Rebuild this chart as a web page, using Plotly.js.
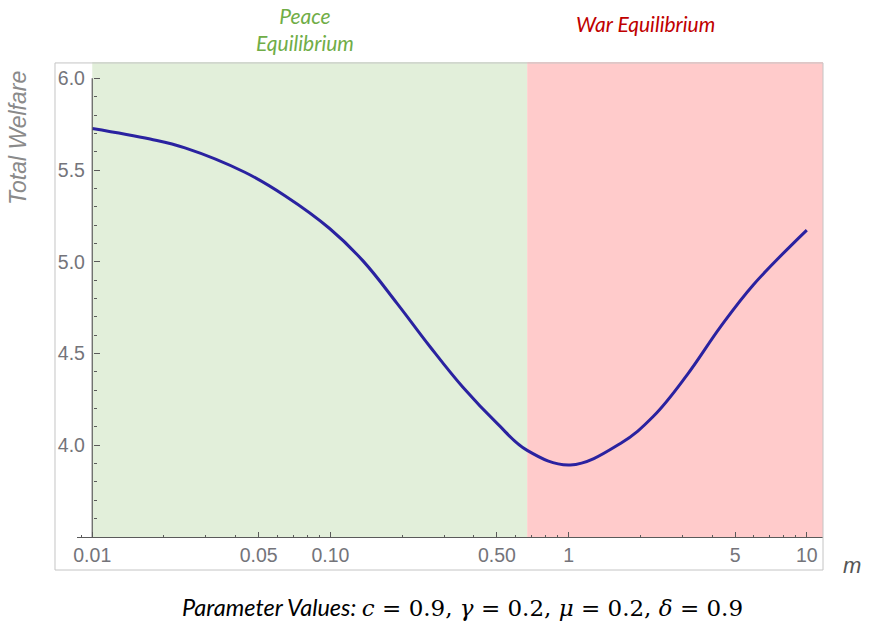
<!DOCTYPE html>
<html>
<head>
<meta charset="utf-8">
<script src="https://cdn.plot.ly/plotly-3.0.1.min.js"></script>
<style>html,body{margin:0;padding:0;background:#fff;}#chart{width:869px;height:623px;}</style>
</head>
<body>
<div id="chart"></div>
<script>
// Data
const m = [0.01, 0.0175, 0.0245, 0.0437, 0.0644, 0.0995, 0.137, 0.190, 0.262, 0.360, 0.501, 0.670, 1.016, 1.65, 2.27, 3.15, 4.34, 5.97, 10];
const welfare = [5.727, 5.669, 5.621, 5.488, 5.360, 5.180, 5.005, 4.775, 4.537, 4.316, 4.119, 3.972, 3.893, 4.010, 4.158, 4.385, 4.645, 4.875, 5.173];
const peaceWarBoundary = 0.67;
const xMajorTicks = [0.01, 0.05, 0.1, 0.5, 1, 5, 10];
const xMajorLabels = ['0.01', '0.05', '0.10', '0.50', '1', '5', '10'];
const xMinorTicks = [0.009, 0.02, 0.03, 0.04, 0.06, 0.07, 0.08, 0.09, 0.2, 0.3, 0.4, 0.6, 0.7, 0.8, 0.9, 2, 3, 4, 6, 7, 8, 9];
const yTicks = [4.0, 4.5, 5.0, 5.5, 6.0];
const yLabels = ['4.0', '4.5', '5.0', '5.5', '6.0'];

const trace = {
  x: m, y: welfare, type: 'scatter', mode: 'lines',
  line: {color: '#2a22a0', width: 3, shape: 'spline', smoothing: 1.1},
  hoverinfo: 'skip'
};

const tickFont = {family: 'Liberation Sans, Arial, sans-serif', size: 19.5, color: '#74747a'};

const layout = {
  width: 869, height: 623,
  margin: {l: 77, r: 46, t: 62, b: 86},
  paper_bgcolor: '#ffffff', plot_bgcolor: 'rgba(0,0,0,0)',
  showlegend: false,
  xaxis: {
    type: 'log', range: [-2.064, 1.068],
    showgrid: false, zeroline: false,
    showline: true, linecolor: '#5a5a5a', linewidth: 1.2,
    ticks: 'inside', ticklen: 5, tickwidth: 1, tickcolor: '#5a5a5a',
    tickmode: 'array', tickvals: xMajorTicks, ticktext: xMajorLabels,
    tickfont: tickFont,
    minor: {tickmode: 'array', tickvals: xMinorTicks, ticks: 'inside', ticklen: 2.5, tickcolor: '#5a5a5a', tickwidth: 1, showgrid: false},
    fixedrange: true
  },
  yaxis: {
    range: [3.5, 6.089],
    anchor: 'free', position: 0.0214,
    showgrid: false, zeroline: false, showline: false,
    ticks: 'inside', ticklen: 6, tickwidth: 1, tickcolor: '#5a5a5a',
    ticklabelstandoff: 8,
    tickmode: 'array', tickvals: yTicks, ticktext: yLabels,
    tickfont: tickFont,
    minor: {dtick: 0.1, tick0: 0, ticks: 'inside', ticklen: 3, tickcolor: '#5a5a5a', tickwidth: 1, showgrid: false},
    fixedrange: true
  },
  shapes: [
    {type: 'rect', xref: 'x', yref: 'paper', x0: 0.01, x1: peaceWarBoundary, y0: 0, y1: 1, fillcolor: '#e2efda', line: {width: 0}, layer: 'below'},
    {type: 'rect', xref: 'x', yref: 'paper', x0: peaceWarBoundary, x1: 1000, y0: 0, y1: 1, fillcolor: '#ffcbcb', line: {width: 0}, layer: 'below'},
    {type: 'line', xref: 'x', yref: 'y', x0: 0.01, x1: 0.01, y0: 3.5, y1: 6.0, line: {color: '#5a5a5a', width: 1.2}},
    {type: 'rect', xref: 'paper', yref: 'paper', x0: -0.0295, x1: 1.0, y0: -0.0695, y1: 0.998, line: {color: '#c4c4c4', width: 1}, fillcolor: 'rgba(0,0,0,0)', layer: 'above'}
  ],
  annotations: [
    {xref: 'paper', yref: 'paper', x: 0.3056, y: 1.069, xanchor: 'center', yanchor: 'middle', showarrow: false,
     text: '<i>Peace<br>Equilibrium</i>', font: {family: 'Lato, Noto Sans, sans-serif', size: 21, color: '#70ad47'}},
    {xref: 'paper', yref: 'paper', x: 0.7627, y: 1.08, xanchor: 'center', yanchor: 'middle', showarrow: false,
     text: '<i>War Equilibrium</i>', font: {family: 'Lato, Noto Sans, sans-serif', size: 21, color: '#c00000'}},
    {xref: 'paper', yref: 'paper', x: -0.0791, y: 0.84, xanchor: 'center', yanchor: 'middle', showarrow: false, textangle: -90,
     text: '<i>Total Welfare</i>', font: {family: 'Liberation Sans, Arial, sans-serif', size: 23, color: '#8a8a8a'}},
    {xref: 'paper', yref: 'paper', x: 1.039, y: -0.061, xanchor: 'center', yanchor: 'middle', showarrow: false,
     text: '<i>m</i>', font: {family: 'Liberation Sans, Arial, sans-serif', size: 22, color: '#555555'}},
    {xref: 'paper', yref: 'paper', x: 0.5174, y: -0.147, xanchor: 'center', yanchor: 'middle', showarrow: false,
     text: '<i>Parameter Values: </i><span style="font-family:DejaVu Serif, Liberation Serif, serif;font-size:23px"><i>c</i> = 0.9, <i>γ</i> = 0.2, <i>μ</i> = 0.2, <i>δ</i> = 0.9</span>',
     font: {family: 'Lato, Noto Sans, sans-serif', size: 23.5, color: '#000000'}}
  ]
};

Plotly.newPlot('chart', [trace], layout, {displayModeBar: false, staticPlot: true});
</script>
</body>
</html>
